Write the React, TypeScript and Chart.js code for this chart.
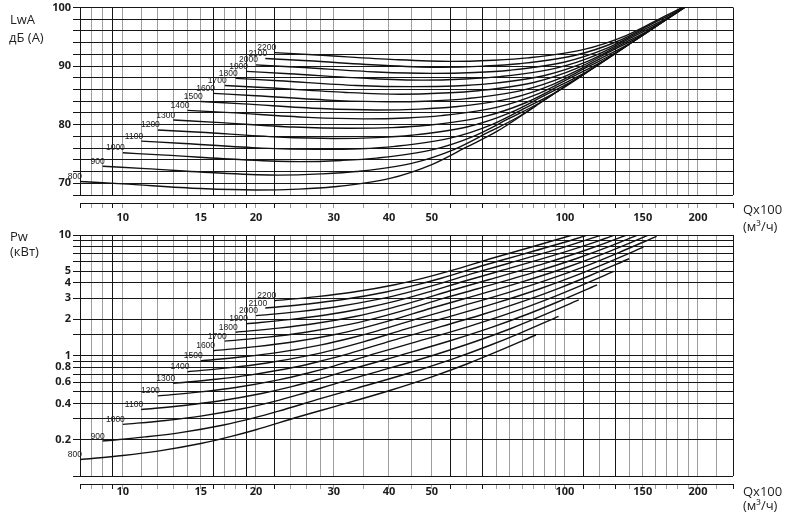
import React, { useEffect, useRef } from 'react';
import { Chart, registerables } from 'chart.js';

Chart.register(...registerables);

type Pair = [number, number];

// ---------- categories / ticks ----------
const RPM = [800, 900, 1000, 1100, 1200, 1300, 1400, 1500, 1600, 1700, 1800, 1900, 2000, 2100, 2200];

const Q_GRID = [8, 8.5, 9, 9.5, 10, 11, 12, 13, 14, 15, 16, 17, 18, 19, 20, 22, 24, 26, 28, 30, 35, 40, 45, 50, 55, 60, 65, 70, 75, 80, 85, 90, 95, 100, 110, 120, 130, 140, 150, 160, 170, 180, 190, 200, 220, 240];
const Q_DARK = [8, 9.5, 16, 19, 22, 55, 65, 110, 130, 240];
const Q_LABELS = [10, 15, 20, 30, 40, 50, 100, 150, 200];

const LW_GRID = [68, 70, 72, 74, 76, 78, 80, 82, 84, 86, 88, 90, 92, 94, 96, 98, 100];
const LW_LABELS = [70, 80, 90, 100];

const PW_GRID = [0.1, 0.2, 0.3, 0.4, 0.5, 0.6, 0.7, 0.8, 0.9, 1, 1.5, 2, 3, 4, 5, 6, 7, 8, 9, 10];
const PW_LABELS = [0.2, 0.4, 0.6, 0.8, 1, 2, 3, 4, 5, 10];

// ---------- LwA, dB(A) : [Q x100 m3/h, LwA] ----------
const LW_800: Pair[] = [[8, 70.3], [10, 69.9], [15, 69.1], [20, 68.85], [25, 69.0], [30, 69.4], [40, 70.8], [50, 73.2], [60, 76.2], [70, 78.8], [86, 83.2]];
const LW_900: Pair[] = [[9, 72.9], [11.25, 72.5], [16.9, 71.7], [22.5, 71.4], [28.1, 71.6], [33.75, 72.0], [45, 73.4], [56.25, 75.8], [67.5, 78.8], [78.75, 81.4], [96.75, 85.8]];
const LW_1000: Pair[] = [[10, 75.2], [12.5, 74.8], [18.75, 74.0], [25, 73.7], [31.25, 73.9], [37.5, 74.3], [50, 75.7], [62.5, 78.1], [75, 81.1], [87.5, 83.7], [107.5, 88.1]];
const LW_1100: Pair[] = [[11, 77.2], [13.75, 76.8], [20.6, 76.0], [27.5, 75.8], [34.4, 75.9], [41.25, 76.3], [55, 77.7], [68.75, 80.1], [82.5, 83.1], [96.25, 85.7], [118.25, 90.1]];
const LW_1200: Pair[] = [[12, 79.1], [15, 78.7], [22.5, 77.9], [30, 77.65], [37.5, 77.8], [45, 78.2], [60, 79.6], [75, 82.0], [90, 85.0], [105, 87.6], [129, 92.0]];
const LW_1300: Pair[] = [[13, 80.8], [16.25, 80.4], [24.4, 79.6], [32.5, 79.4], [40.6, 79.5], [48.75, 79.9], [65, 81.3], [81.25, 83.7], [97.5, 86.7], [113.75, 89.3], [139.75, 93.7]];
const LW_1400: Pair[] = [[14, 82.45], [17.5, 82.05], [26.25, 81.25], [35, 81.0], [43.75, 81.15], [52.5, 81.55], [70, 82.95], [87.5, 85.35], [105, 88.35], [122.5, 90.95], [150.5, 95.35]];
const LW_1500: Pair[] = [[15, 83.95], [18.75, 83.55], [28.1, 82.75], [37.5, 82.5], [46.9, 82.65], [56.25, 83.05], [75, 84.45], [93.75, 86.85], [112.5, 89.85], [131.25, 92.45], [161.25, 96.85]];
const LW_1600: Pair[] = [[16, 85.35], [20, 84.95], [30, 84.15], [40, 83.9], [50, 84.05], [60, 84.45], [80, 85.85], [100, 88.25], [120, 91.25], [140, 93.85], [172, 98.25]];
const LW_1700: Pair[] = [[17, 86.7], [21.25, 86.3], [31.9, 85.5], [42.5, 85.2], [53.1, 85.4], [63.75, 85.8], [85, 87.2], [106.25, 89.6], [127.5, 92.6], [148.75, 95.2], [182.75, 99.6]];
const LW_1800: Pair[] = [[18, 87.9], [22.5, 87.5], [33.75, 86.7], [45, 86.5], [56.25, 86.6], [67.5, 87.0], [90, 88.4], [112.5, 90.8], [135, 93.8], [157.5, 96.4], [193.5, 100.8]];
const LW_1900: Pair[] = [[19, 89.1], [23.75, 88.7], [35.6, 87.9], [47.5, 87.6], [59.4, 87.8], [71.25, 88.2], [95, 89.6], [118.75, 92.0], [142.5, 95.0], [166.25, 97.6], [204.25, 102.0]];
const LW_2000: Pair[] = [[20, 90.2], [25, 89.8], [37.5, 89.0], [50, 88.75], [62.5, 88.9], [75, 89.3], [100, 90.7], [125, 93.1], [150, 96.1], [175, 98.7], [215, 103.1]];
const LW_2100: Pair[] = [[21, 91.3], [26.25, 90.9], [39.4, 90.1], [52.5, 89.8], [65.6, 90.0], [78.75, 90.4], [105, 91.8], [131.25, 94.2], [157.5, 97.2], [183.75, 99.8], [225.75, 104.2]];
const LW_2200: Pair[] = [[22, 92.3], [27.5, 91.9], [41.25, 91.1], [55, 90.8], [68.75, 91.0], [82.5, 91.4], [110, 92.8], [137.5, 95.2], [165, 98.2], [192.5, 100.8], [236.5, 105.2]];

// ---------- Pw, kW : [Q x100 m3/h, Pw] ----------
const PW_800: Pair[] = [[8, 0.137], [10, 0.148], [12, 0.161], [15, 0.186], [17.5, 0.212], [20, 0.242], [25, 0.31], [30, 0.375], [40, 0.51], [50, 0.665], [60, 0.85], [70, 1.07], [86, 1.48]];
const PW_900: Pair[] = [[9, 0.195], [11.25, 0.211], [13.5, 0.229], [16.9, 0.265], [19.7, 0.302], [22.5, 0.345], [28.1, 0.441], [33.75, 0.534], [45, 0.726], [56.25, 0.947], [67.5, 1.21], [78.75, 1.52], [96.75, 2.11]];
const PW_1000: Pair[] = [[10, 0.268], [12.5, 0.289], [15, 0.314], [18.75, 0.363], [21.9, 0.414], [25, 0.473], [31.25, 0.605], [37.5, 0.732], [50, 0.996], [62.5, 1.3], [75, 1.66], [87.5, 2.09], [107.5, 2.89]];
const PW_1100: Pair[] = [[11, 0.356], [13.75, 0.385], [16.5, 0.419], [20.6, 0.484], [24.1, 0.551], [27.5, 0.629], [34.4, 0.806], [41.25, 0.975], [55, 1.326], [68.75, 1.729], [82.5, 2.21], [96.25, 2.78], [118.25, 3.85]];
const PW_1200: Pair[] = [[12, 0.462], [15, 0.4995], [18, 0.543], [22.5, 0.628], [26.25, 0.716], [30, 0.817], [37.5, 1.046], [45, 1.266], [60, 1.721], [75, 2.244], [90, 2.869], [105, 3.611], [129, 4.995]];
const PW_1300: Pair[] = [[13, 0.588], [16.25, 0.635], [19.5, 0.691], [24.4, 0.798], [28.4, 0.91], [32.5, 1.038], [40.6, 1.33], [48.75, 1.609], [65, 2.188], [81.25, 2.854], [97.5, 3.647], [113.75, 4.591], [139.75, 6.351]];
const PW_1400: Pair[] = [[14, 0.734], [17.5, 0.793], [21, 0.863], [26.25, 0.997], [30.6, 1.136], [35, 1.297], [43.75, 1.661], [52.5, 2.01], [70, 2.733], [87.5, 3.564], [105, 4.555], [122.5, 5.735], [150.5, 7.932]];
const PW_1500: Pair[] = [[15, 0.903], [18.75, 0.976], [22.5, 1.061], [28.1, 1.226], [32.8, 1.397], [37.5, 1.595], [46.9, 2.043], [56.25, 2.472], [75, 3.362], [93.75, 4.384], [112.5, 5.603], [131.25, 7.053], [161.25, 9.756]];
const PW_1600: Pair[] = [[16, 1.096], [20, 1.184], [24, 1.288], [30, 1.488], [35, 1.696], [40, 1.936], [50, 2.48], [60, 3.0], [80, 4.08], [100, 5.32], [120, 6.8], [140, 8.56], [172, 11.84]];
const PW_1700: Pair[] = [[17, 1.315], [21.25, 1.42], [25.5, 1.545], [31.9, 1.785], [37.2, 2.034], [42.5, 2.322], [53.1, 2.975], [63.75, 3.598], [85, 4.894], [106.25, 6.381], [127.5, 8.156], [148.75, 10.27]];
const PW_1800: Pair[] = [[18, 1.561], [22.5, 1.686], [27, 1.834], [33.75, 2.119], [39.4, 2.415], [45, 2.757], [56.25, 3.531], [67.5, 4.271], [90, 5.809], [112.5, 7.575], [135, 9.682], [157.5, 12.19]];
const PW_1900: Pair[] = [[19, 1.835], [23.75, 1.983], [28.5, 2.157], [35.6, 2.492], [41.6, 2.84], [47.5, 3.242], [59.4, 4.153], [71.25, 5.024], [95, 6.832], [118.75, 8.909], [142.5, 11.39]];
const PW_2000: Pair[] = [[20, 2.141], [25, 2.313], [30, 2.516], [37.5, 2.906], [43.75, 3.313], [50, 3.781], [62.5, 4.844], [75, 5.859], [100, 7.969], [125, 10.39]];
const PW_2100: Pair[] = [[21, 2.478], [26.25, 2.677], [31.5, 2.912], [39.4, 3.364], [45.9, 3.835], [52.5, 4.377], [65.6, 5.607], [78.75, 6.783], [105, 9.225], [131.25, 12.03]];
const PW_2200: Pair[] = [[22, 2.849], [27.5, 3.078], [33, 3.348], [41.25, 3.868], [48.1, 4.409], [55, 5.033], [68.75, 6.447], [82.5, 7.799], [110, 10.61]];

const LW_CURVES = [LW_800, LW_900, LW_1000, LW_1100, LW_1200, LW_1300, LW_1400, LW_1500, LW_1600, LW_1700, LW_1800, LW_1900, LW_2000, LW_2100, LW_2200];
const PW_CURVES = [PW_800, PW_900, PW_1000, PW_1100, PW_1200, PW_1300, PW_1400, PW_1500, PW_1600, PW_1700, PW_1800, PW_1900, PW_2000, PW_2100, PW_2200];

// ---------- styles ----------
const DARK = '#161616';
const LIGHT = '#9e9e9e';
const CURVE = '#111111';
const TICK_FONT = { family: "'Open Sans', 'DejaVu Sans', sans-serif", size: 11, weight: 'bold' as const, lineHeight: 1 };

const curveLabelPlugin = {
  id: 'curveLabels',
  afterDatasetsDraw(chart: any) {
    const { ctx, scales } = chart;
    ctx.save();
    ctx.font = '8.5px "Liberation Sans", Arial, sans-serif';
    ctx.fillStyle = '#222';
    ctx.textAlign = 'right';
    ctx.textBaseline = 'alphabetic';
    chart.data.datasets.forEach((ds: any) => {
      const p = ds.data[0];
      const x = scales.x.getPixelForValue(p.x);
      const y = scales.y.getPixelForValue(p.y);
      ctx.fillText(ds.label, x + 2, y - 2.5);
    });
    ctx.restore();
  },
};

const setTicks = (values: number[]) => (scale: any) => {
  scale.ticks = values.map((v) => ({ value: v }));
};

const qGridColor = (ctx: any) => (ctx.tick && Q_DARK.includes(ctx.tick.value) ? DARK : LIGHT);

function makeConfig(curves: Pair[][], yScale: any, padTop: number, axisH: number, labelPad: number): any {
  return {
    type: 'line',
    data: {
      datasets: RPM.map((rpm, i) => ({
        label: String(rpm),
        data: curves[i].map(([x, y]) => ({ x, y })),
        borderColor: CURVE,
        borderWidth: 1.4,
        pointRadius: 0,
        pointHoverRadius: 0,
        cubicInterpolationMode: 'monotone',
        fill: false,
        clip: 0,
      })),
    },
    options: {
      animation: false,
      responsive: false,
      maintainAspectRatio: false,
      devicePixelRatio: 1,
      events: [],
      layout: { padding: { left: 0, right: 65, top: padTop, bottom: 0 } },
      plugins: { legend: { display: false }, tooltip: { enabled: false }, title: { display: false } },
      scales: {
        x: {
          type: 'logarithmic',
          min: 8,
          max: 240,
          position: 'bottom',
          weight: 0,
          afterBuildTicks: setTicks(Q_GRID),
          afterFit: (s: any) => { s.height = 8; },
          ticks: { display: false, autoSkip: false },
          grid: { color: qGridColor, lineWidth: 1, drawTicks: false },
          border: { display: false },
        },
        x2: {
          type: 'logarithmic',
          min: 8,
          max: 240,
          position: 'bottom',
          weight: 1,
          afterBuildTicks: setTicks(Q_GRID),
          afterFit: (s: any) => { s.height = axisH; },
          ticks: {
            autoSkip: false,
            maxRotation: 0,
            minRotation: 0,
            padding: labelPad,
            font: TICK_FONT,
            color: '#1c1c1c',
            callback: (v: any) => (Q_LABELS.includes(v) ? String(v) : ''),
          },
          grid: { drawOnChartArea: false, drawTicks: true, tickLength: 5, color: qGridColor, lineWidth: 1 },
          border: { display: true, color: DARK, width: 1 },
        },
        y: yScale,
      },
    },
    plugins: [curveLabelPlugin],
  };
}

const topY = {
  type: 'linear',
  min: 68,
  max: 100,
  position: 'left',
  afterBuildTicks: setTicks(LW_GRID),
  afterFit: (s: any) => { s.width = 80; },
  ticks: {
    autoSkip: false,
    padding: 2,
    font: TICK_FONT,
    color: '#1c1c1c',
    callback: (v: any) => (LW_LABELS.includes(v) ? String(v) : ''),
  },
  grid: { color: DARK, lineWidth: 1, drawTicks: true, tickLength: 7 },
  border: { display: true, color: DARK, width: 1 },
};

const bottomY = {
  type: 'logarithmic',
  min: 0.1,
  max: 10,
  position: 'left',
  afterBuildTicks: setTicks(PW_GRID),
  afterFit: (s: any) => { s.width = 80; },
  ticks: {
    autoSkip: false,
    padding: 2,
    font: TICK_FONT,
    color: '#1c1c1c',
    callback: (v: any) => (PW_LABELS.includes(v) ? String(v) : ''),
  },
  grid: { color: DARK, lineWidth: 1, drawTicks: true, tickLength: 7 },
  border: { display: true, color: DARK, width: 1 },
};

const textStyle: React.CSSProperties = {
  position: 'absolute',
  fontFamily: "'Open Sans', 'DejaVu Sans', sans-serif",
  fontSize: 13,
  lineHeight: '14px',
  color: '#1e1e1e',
  whiteSpace: 'nowrap',
};

export default function App() {
  const topRef = useRef<HTMLCanvasElement>(null);
  const botRef = useRef<HTMLCanvasElement>(null);

  useEffect(() => {
    const c1 = new Chart(topRef.current as HTMLCanvasElement, makeConfig(LW_CURVES, topY, 7, 29, 4.5));
    const c2 = new Chart(botRef.current as HTMLCanvasElement, makeConfig(PW_CURVES, bottomY, 13, 37, -2.5));
    return () => {
      c1.destroy();
      c2.destroy();
    };
  }, []);

  return (
    <div style={{ position: 'absolute', left: 0, top: 0, width: 798, height: 521, background: '#fff', overflow: 'hidden' }}>
      <canvas ref={topRef} width={798} height={232} style={{ position: 'absolute', left: 0, top: 0, width: 798, height: 232 }} />
      <canvas ref={botRef} width={798} height={299} style={{ position: 'absolute', left: 0, top: 222, width: 798, height: 299 }} />
      <div style={{ ...textStyle, left: 10, top: 12 }}>LwA</div>
      <div style={{ ...textStyle, left: 9, top: 30 }}>дБ (А)</div>
      <div style={{ ...textStyle, left: 10, top: 229 }}>Pw</div>
      <div style={{ ...textStyle, left: 10, top: 244 }}>(кВт)</div>
      <div style={{ ...textStyle, left: 743, top: 202 }}>Qx100</div>
      <div style={{ ...textStyle, left: 743, top: 219 }}>(м³/ч)</div>
      <div style={{ ...textStyle, left: 743, top: 484 }}>Qx100</div>
      <div style={{ ...textStyle, left: 743, top: 498 }}>(м³/ч)</div>
    </div>
  );
}
